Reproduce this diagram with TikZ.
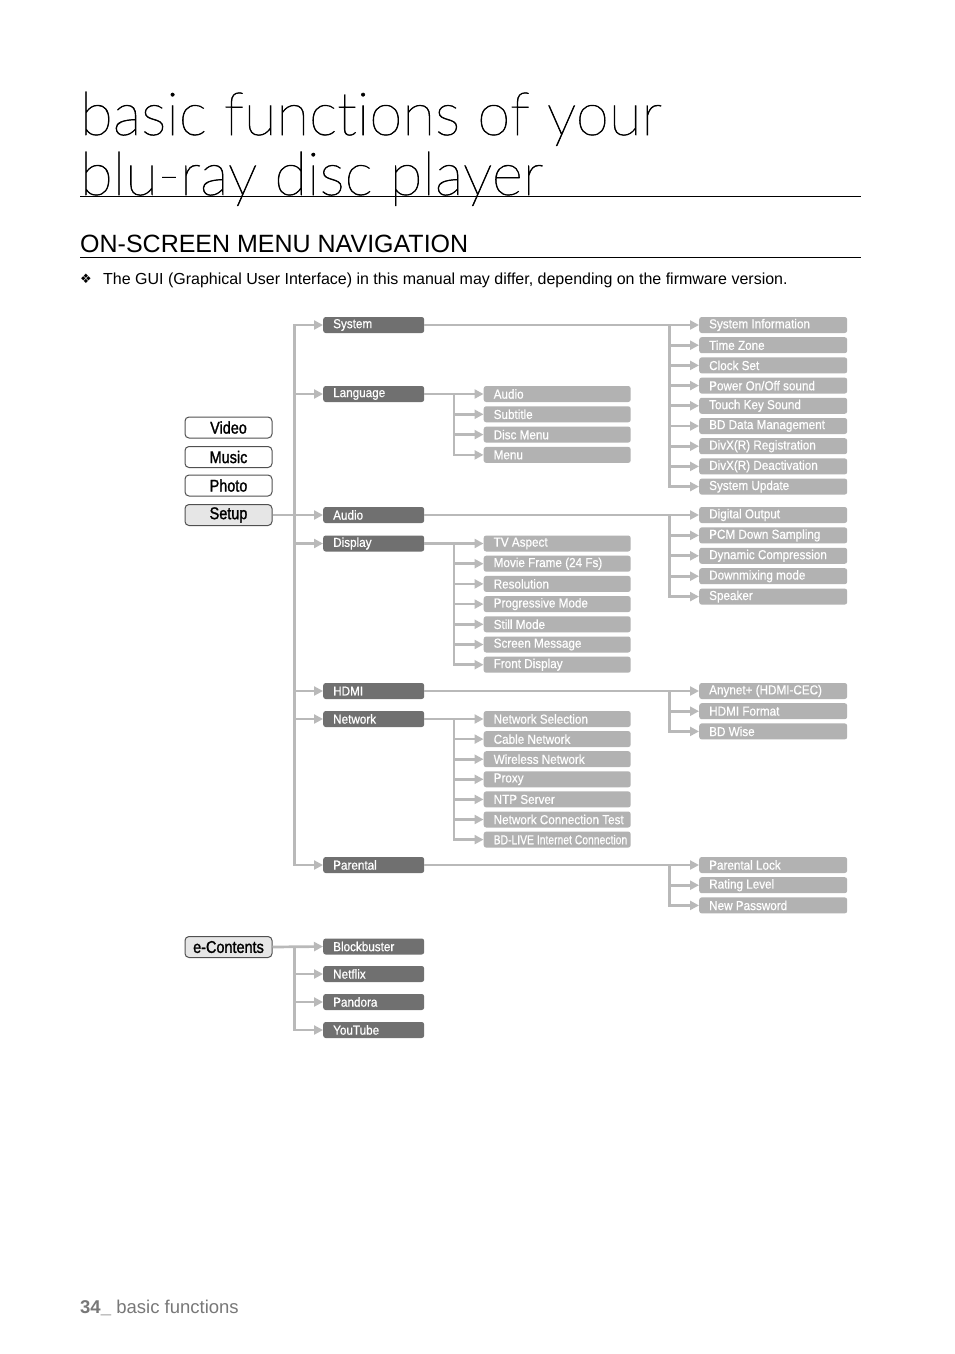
\documentclass[tikz,border=0pt]{standalone}
\usepackage{fontspec}
\setmainfont{Liberation Sans}
\newfontfamily\cond{Liberation Sans}[FakeStretch=0.9,FakeBold=0.6]
\newfontfamily\sidefont{Liberation Sans}[FakeStretch=0.85,FakeBold=1.4]
\newfontfamily\thin{Lato Hairline}[Ligatures={NoCommon,NoRare},FakeBold=1]
\newfontfamily\dejavu{DejaVu Sans}
\usetikzlibrary{arrows.meta}
\definecolor{linegray}{RGB}{185,185,185}
\definecolor{darkfill}{RGB}{112,112,112}
\definecolor{lightfill}{RGB}{178,178,178}
\definecolor{bordergray}{RGB}{80,80,80}
\definecolor{setupfill}{RGB}{230,230,230}
\definecolor{footgray}{RGB}{120,120,120}
\tikzset{
  conn/.style={draw=linegray, line width=2.7pt},
  arr/.style={conn, -{Triangle[length=9pt,width=9pt]}},
  boxbase/.style={rounded corners=2.5pt, anchor=west, minimum height=16pt, inner ysep=0pt, inner xsep=10pt, text=white, font=\cond\fontsize{13}{13}\selectfont},
  dbox/.style={boxbase, fill=darkfill},
  lbox/.style={boxbase, fill=lightfill},
  sidebox/.style={draw=bordergray, line width=1pt, rounded corners=4pt, minimum width=87pt, minimum height=21pt, inner sep=0pt, font=\sidefont\fontsize{17}{17}\selectfont},
  plain/.style={anchor=base west, inner sep=0pt}
}
\newcommand\D[1]{\makebox[81pt][l]{#1}}
\newcommand\La[1]{\makebox[127pt][l]{#1}}
\newcommand\Lb[1]{\makebox[128pt][l]{#1}}
\begin{document}
\begin{tikzpicture}[x=1pt,y=-1pt]
\useasboundingbox (0,0) rectangle (954,1354);
\fill[white] (0,0) rectangle (954,1354);
% header
\node[plain, font=\thin\fontsize{60}{60}\selectfont] (title1) at (80,135) {basic funct\kern0pt ions of your};
\node[plain, font=\thin\fontsize{60}{60}\selectfont] (title2) at (80,195) {blu-ray disc player};
\coordinate (r1a) at (80,196.5); \coordinate (r1b) at (861,196.5);
\draw[line width=1pt] (r1a) -- (r1b);
\node[plain, font=\fontsize{25}{25}\selectfont] (head) at (80,252) {ON-SCREEN MENU NAVIGATION};
\coordinate (r2a) at (80,257.5); \coordinate (r2b) at (861,257.5);
\draw[line width=1pt] (r2a) -- (r2b);
\node[plain, font=\dejavu\fontsize{13}{13}\selectfont] (bullet) at (80,283.5) {❖};
\node[plain, font=\fontsize{16}{16}\selectfont] (note) at (103,284) {The GUI (Graphical User Interface) in this manual may differ, depending on the firmware version.};
\node[plain, text=footgray, font=\fontsize{18.5}{18.5}\selectfont] (foot) at (80,1313) {\textbf{34\_} basic functions};

% left menu
\node[sidebox] (video) at (228.5,427.5) {Video};
\node[sidebox] (music) at (228.5,457) {Music};
\node[sidebox] (photo) at (228.5,485.5) {Photo};
\node[sidebox, fill=setupfill] (setup) at (228.5,515) {Setup};
\node[sidebox, fill=setupfill] (econt) at (228.5,947) {e-Contents};

% column 2
\node[dbox] (system) at (323,325) {\D{System}};
\node[dbox] (language) at (323,394) {\D{Language}};
\node[dbox] (audio) at (323,515) {\D{Audio}};
\node[dbox] (display) at (323,543.5) {\D{Display}};
\node[dbox] (hdmi) at (323,691) {\D{HDMI}};
\node[dbox] (network) at (323,719) {\D{Network}};
\node[dbox] (parental) at (323,865) {\D{Parental}};
\node[dbox] (blockbuster) at (323,946.5) {\D{Blockbuster}};
\node[dbox] (netflix) at (323,974) {\D{Netflix}};
\node[dbox] (pandora) at (323,1002) {\D{Pandora}};
\node[dbox] (youtube) at (323,1030) {\D{YouTube}};

% column 3
\foreach \n/\t [count=\i from 0] in {laudio/Audio, lsub/Subtitle, ldisc/Disc Menu, lmenu/Menu}
  \node[lbox] (\n) at (483.5,{394+20.3*\i}) {\La{\t}};
\foreach \n/\t [count=\i from 0] in {dtv/TV Aspect, dmovie/Movie Frame (24 Fs), dres/Resolution, dprog/Progressive Mode, dstill/Still Mode, dscreen/Screen Message, dfront/Front Display}
  \node[lbox] (\n) at (483.5,{543.5+20.2*\i}) {\La{\t}};
\foreach \n/\t [count=\i from 0] in {nsel/Network Selection, ncable/Cable Network, nwire/Wireless Network, nproxy/Proxy, nntp/NTP Server, ntest/Network Connection Test}
  \node[lbox] (\n) at (483.5,{719+20.1*\i}) {\La{\t}};
\node[lbox] (nbdlive) at (483.5,839.6) {\La{\scalebox{0.885}[1]{BD-LIVE Internet Connection}}};

% column 4
\foreach \n/\t [count=\i from 0] in {sinfo/System Information, stz/Time Zone, sclock/Clock Set, spower/{Power On/Off sound}, stouch/Touch Key Sound, sbd/BD Data Management, sreg/DivX(R) Registration, sdeact/DivX(R) Deactivation, supd/System Update}
  \node[lbox] (\n) at (699,{325+20.2*\i}) {\Lb{\t}};
\foreach \n/\t [count=\i from 0] in {adig/Digital Output, apcm/PCM Down Sampling, adyn/Dynamic Compression, adown/Downmixing mode, aspk/Speaker}
  \node[lbox] (\n) at (699,{515+20.4*\i}) {\Lb{\t}};
\foreach \n/\t [count=\i from 0] in {hany/Anynet+ (HDMI-CEC), hfmt/HDMI Format, hbd/BD Wise}
  \node[lbox] (\n) at (699,{691+20.2*\i}) {\Lb{\t}};
\foreach \n/\t [count=\i from 0] in {plock/Parental Lock, prate/Rating Level, ppass/New Password}
  \node[lbox] (\n) at (699,{865+20.2*\i}) {\Lb{\t}};

% branch x positions
\coordinate (tk) at (294.5,0);
\coordinate (b3) at (454,0);
\coordinate (b4) at (669.5,0);

% main trunk
\draw[arr] (tk |- parental.west) |- (system.west);
\draw[arr] (tk |- system.west) |- (parental.west);
\foreach \n in {language,display,hdmi,network}
  \draw[arr] (tk |- \n.west) -- (\n.west);
\draw[arr] (setup.east) -- (audio.west);

% e-Contents
\draw[arr] (econt.east) -- (blockbuster.west);
\foreach \n in {netflix,pandora,youtube}
  \draw[arr] (tk |- econt.east) |- (\n.west);

% column 3 branches
\draw[arr] (language.east) -- (laudio.west);
\foreach \n in {lsub,ldisc,lmenu}
  \draw[arr] (b3 |- language.east) |- (\n.west);
\draw[arr] (display.east) -- (dtv.west);
\foreach \n in {dmovie,dres,dprog,dstill,dscreen,dfront}
  \draw[arr] (b3 |- display.east) |- (\n.west);
\draw[arr] (network.east) -- (nsel.west);
\foreach \n in {ncable,nwire,nproxy,nntp,ntest,nbdlive}
  \draw[arr] (b3 |- network.east) |- (\n.west);

% column 4 branches
\draw[arr] (system.east) -- (sinfo.west);
\foreach \n in {stz,sclock,spower,stouch,sbd,sreg,sdeact,supd}
  \draw[arr] (b4 |- system.east) |- (\n.west);
\draw[arr] (audio.east) -- (adig.west);
\foreach \n in {apcm,adyn,adown,aspk}
  \draw[arr] (b4 |- audio.east) |- (\n.west);
\draw[arr] (hdmi.east) -- (hany.west);
\foreach \n in {hfmt,hbd}
  \draw[arr] (b4 |- hdmi.east) |- (\n.west);
\draw[arr] (parental.east) -- (plock.west);
\foreach \n in {prate,ppass}
  \draw[arr] (b4 |- parental.east) |- (\n.west);
\end{tikzpicture}
\end{document}
